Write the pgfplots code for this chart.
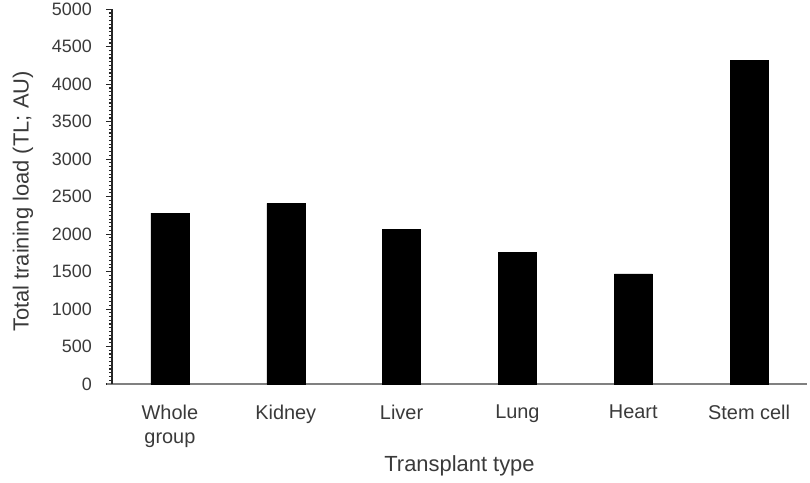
\documentclass[border=0pt]{standalone}
\usepackage{pgfplots}
\pgfplotsset{compat=1.18}
\usepackage{fontspec}
\setmainfont{Liberation Sans}
\definecolor{txt}{HTML}{3A3A3A}
\definecolor{xline}{HTML}{808080}
\begin{document}
\begin{tikzpicture}
\begin{axis}[
  scale only axis,
  width=695bp, height=374.7bp,
  xmin=-0.5, xmax=5.5,
  ymin=0, ymax=5000,
  axis x line*=bottom,
  axis y line*=left,
  x axis line style={xline, line width=2.5bp, shorten <=-5bp},
  y axis line style={black!85, line width=1.3bp},
  xtick=data,
  xticklabels={Whole\\group, Kidney, Liver, Lung, Heart, Stem cell},
  major x tick style={draw=none},
  ytick={0,500,...,5000},
  minor y tick num=9,
  tick align=outside,
  major tick length=6bp,
  minor tick length=3bp,
  every tick/.style={black!85, line width=1.1bp},
  /pgf/number format/assume math mode=true,
  /pgf/number format/1000 sep={},
  yticklabel style={font=\fontsize{18}{20}\selectfont, text=txt, anchor=east, inner sep=0pt, xshift=-14bp},
  xticklabel style={font=\fontsize{20}{24}\selectfont, text=txt, anchor=north, inner sep=0pt, align=center, yshift=-15bp},
  every axis y label/.style={at={(axis description cs:-0.128,0.487)}, rotate=90, anchor=center, font=\fontsize{22}{26}\selectfont, text=txt},
  every axis x label/.style={at={(axis description cs:0.5,-0.218)}, anchor=center, font=\fontsize{22}{26}\selectfont, text=txt},
  ylabel={Total training load (TL; AU)},
  xlabel={Transplant type},
  clip=false,
]
\addplot[ybar, bar width=38bp, fill=black, draw=black] coordinates {
  (0,2279) (1,2410) (2,2068) (3,1758) (4,1468) (5,4320)
};
\end{axis}
\pgfresetboundingbox
\path (current axis.south west) ++(-112bp,-99bp) rectangle ++(810bp,483bp);
\end{tikzpicture}
\end{document}
